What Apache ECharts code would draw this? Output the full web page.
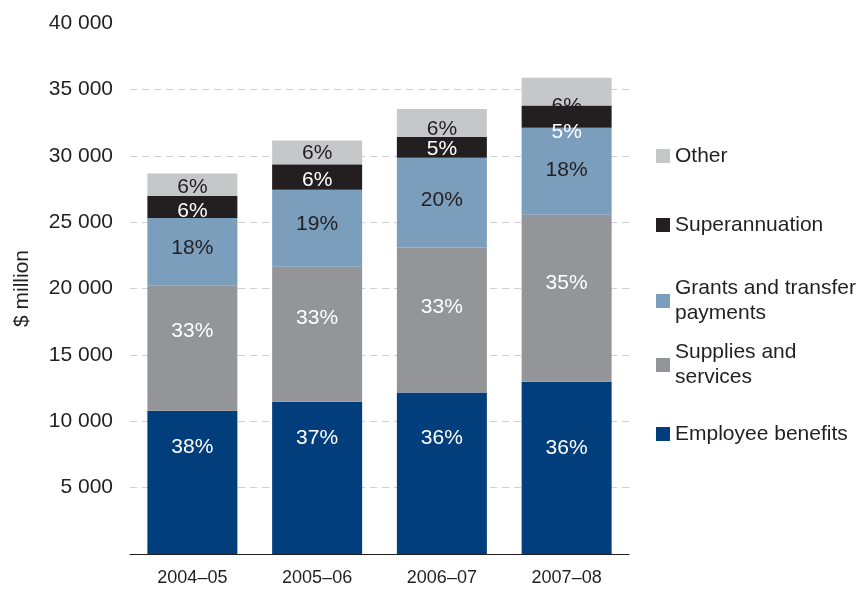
<!DOCTYPE html>
<html>
<head>
<meta charset="utf-8">
<title>Expenses by type</title>
<script src="https://cdn.jsdelivr.net/npm/echarts@6/dist/echarts.min.js"></script>
<style>
  html, body { margin: 0; padding: 0; background: #ffffff; }
  #chart { width: 863px; height: 591px; }
</style>
</head>
<body>
<div id="chart"></div>
<script>
// Financial years on the category axis
const years = ['2004–05', '2005–06', '2006–07', '2007–08'];

// Expense components, $ million
const employeeBenefits = [10800, 11470, 12170, 12980];
const suppliesServices = [9400, 10170, 10920, 12570];
const grantsTransfers = [5120, 5800, 6750, 6550];
const superannuation = [1650, 1900, 1580, 1660];
const otherExpenses = [1700, 1800, 2110, 2110];

// Value axis ticks
const yTicks = [0, 5000, 10000, 15000, 20000, 25000, 30000, 35000, 40000];

const FONT = '"Liberation Sans", Arial, Helvetica, sans-serif';
const INK = '#231f20';

const components = [
  { name: 'Employee benefits', legend: 'Employee benefits', values: employeeBenefits, color: '#023e7b', text: '#ffffff', z: 2 },
  { name: 'Supplies and services', legend: 'Supplies and\nservices', values: suppliesServices, color: '#939598', text: '#ffffff', z: 2 },
  { name: 'Grants and transfer payments', legend: 'Grants and transfer\npayments', values: grantsTransfers, color: '#7b9ebd', text: INK, z: 2 },
  { name: 'Superannuation', legend: 'Superannuation', values: superannuation, color: '#231f20', text: '#ffffff', z: 3 },
  { name: 'Other', legend: 'Other', values: otherExpenses, color: '#c6c7c9', text: INK, z: 2 }
];

// Vertical nudge of each share label from its segment centre (px)
const labelNudge = {
  'Employee benefits': [-35, -40, -35, -20],
  'Supplies and services': [-17, -16, -13, -15],
  'Grants and transfer payments': [-4, -4, -2, -1],
  'Superannuation': [4, 3, 2, 15],
  'Other': [3, 1, 6, 14]
};

// Totals per year, used for the share labels
const totals = years.map((_, i) => components.reduce((s, c) => s + c.values[i], 0));

const series = components.map(c => ({
  name: c.name,
  type: 'bar',
  stack: 'total',
  barWidth: 90,
  z: c.z,
  itemStyle: { color: c.color },
  emphasis: { disabled: true },
  data: c.values.map((v, i) => ({
    value: v,
    label: { offset: [0, labelNudge[c.name][i]] }
  })),
  label: {
    show: true,
    position: 'inside',
    color: c.text,
    fontFamily: FONT,
    fontSize: 21,
    formatter: p => Math.round(p.value / totals[p.dataIndex] * 100) + '%'
  }
}));

// Legend entries stacked down the right side; first line aligns with the swatch
const legendRows = [
  { name: 'Other', y: 156, lines: 1 },
  { name: 'Superannuation', y: 225, lines: 1 },
  { name: 'Grants and transfer payments', y: 301, lines: 2 },
  { name: 'Supplies and services', y: 365, lines: 2 },
  { name: 'Employee benefits', y: 434, lines: 1 }
];
const LH = 25;
const legends = legendRows.map(r => {
  const comp = components.find(c => c.name === r.name);
  return {
    data: [r.name],
    left: 656,
    top: r.lines === 1 ? r.y - LH / 2 : r.y - LH * 1.5,
    padding: 0,
    itemWidth: 14,
    itemHeight: 14,
    icon: 'rect',
    selectedMode: false,
    formatter: () => comp.legend,
    textStyle: {
      color: INK,
      fontFamily: FONT,
      fontSize: 21,
      lineHeight: LH,
      padding: r.lines === 1 ? 0 : [LH, 0, 0, 0]
    }
  };
});

const chart = echarts.init(document.getElementById('chart'), null, { renderer: 'canvas' });
chart.setOption({
  animation: false,
  backgroundColor: '#ffffff',
  textStyle: { fontFamily: FONT },
  grid: { left: 130, right: 234, top: 23, bottom: 37, containLabel: false, outerBoundsMode: 'none' },
  legend: legends,
  xAxis: {
    type: 'category',
    data: years,
    axisLine: { show: true, lineStyle: { color: INK, width: 1 } },
    axisTick: { show: false },
    axisLabel: { color: INK, fontFamily: FONT, fontSize: 18, margin: 15 }
  },
  yAxis: {
    type: 'value',
    min: yTicks[0],
    max: yTicks[yTicks.length - 1],
    interval: yTicks[1] - yTicks[0],
    name: '$ million',
    nameLocation: 'middle',
    nameGap: 97,
    nameRotate: 90,
    nameTextStyle: { color: INK, fontFamily: FONT, fontSize: 21 },
    axisLine: { show: false },
    axisTick: { show: false },
    axisLabel: {
      color: INK,
      fontFamily: FONT,
      fontSize: 21,
      margin: 17,
      showMinLabel: false,
      formatter: v => v === 0 ? '' : String(v).replace(/\B(?=(\d{3})+(?!\d))/g, ' ')
    },
    splitLine: {
      show: true,
      showMinLine: false,
      showMaxLine: false,
      lineStyle: { color: '#cfcfcf', width: 1, type: [7, 5] }
    }
  },
  series: series
});
</script>
</body>
</html>
